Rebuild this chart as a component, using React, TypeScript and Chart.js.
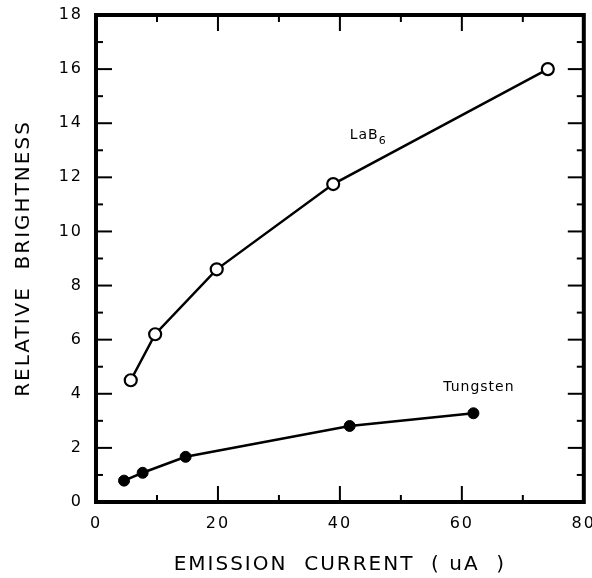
import React, { useEffect, useRef } from "react";
import { Chart, registerables } from "chart.js";

Chart.register(...registerables);

// ---- data ----
const lab6Current = [5.7, 9.7, 19.8, 38.9, 74.1];
const lab6Brightness = [4.5, 6.2, 8.6, 11.75, 16.0];
const tungstenCurrent = [4.6, 7.65, 14.7, 41.6, 61.9];
const tungstenBrightness = [0.79, 1.08, 1.67, 2.81, 3.28];
const xTickValues = [0, 20, 40, 60, 80];
const yTickValues = [0, 2, 4, 6, 8, 10, 12, 14, 16, 18];
const xTitle = "EMISSION  CURRENT  ( uA  )";
const yTitle = "RELATIVE  BRIGHTNESS";

const FONT = "'DejaVu Sans', sans-serif";

const toPoints = (xs: number[], ys: number[]) => xs.map((x, i) => ({ x, y: ys[i] }));

const framePlugin = {
  id: "frameAndLabels",
  beforeDraw(chart: any) {
    chart.ctx.letterSpacing = "2px";
  },
  afterDatasetsDraw(chart: any) {
    const { ctx, chartArea, scales } = chart;
    const { left, right, top, bottom } = chartArea;
    const x = scales.x;
    const y = scales.y;
    ctx.save();
    ctx.strokeStyle = "#000";
    ctx.lineWidth = 2;
    const seg = (x1: number, y1: number, x2: number, y2: number) => {
      ctx.beginPath();
      ctx.moveTo(x1, y1);
      ctx.lineTo(x2, y2);
      ctx.stroke();
    };
    for (let v = 10; v < 80; v += 10) {
      const px = x.getPixelForValue(v);
      const len = v % 20 === 0 ? 16 : 7;
      seg(px, bottom, px, bottom - len);
      seg(px, top, px, top + len);
    }
    for (let v = 1; v < 18; v += 1) {
      const py = y.getPixelForValue(v);
      const len = v % 2 === 0 ? 16 : 7;
      seg(left, py, left + len, py);
      seg(right, py, right - len, py);
    }
    ctx.lineWidth = 4;
    ctx.strokeRect(left, top, right - left, bottom - top);

    // series labels
    ctx.fillStyle = "#000";
    ctx.letterSpacing = "1px";
    ctx.textBaseline = "alphabetic";
    ctx.textAlign = "left";
    ctx.font = `14px ${FONT}`;
    const lx = x.getPixelForValue(41.6);
    const ly = y.getPixelForValue(13.4);
    ctx.fillText("LaB", lx, ly);
    const w = ctx.measureText("LaB").width;
    ctx.font = `11px ${FONT}`;
    ctx.fillText("6", lx + w, ly + 5);

    ctx.font = `14px ${FONT}`;
    ctx.textAlign = "center";
    ctx.textBaseline = "middle";
    ctx.fillText("Tungsten", x.getPixelForValue(62.8), y.getPixelForValue(4.25));
    ctx.restore();
  },
  afterDraw(chart: any) {
    chart.ctx.letterSpacing = "0px";
  },
};

export default function App() {
  const ref = useRef<HTMLCanvasElement | null>(null);
  useEffect(() => {
    if (!ref.current) return;
    const chart = new Chart(ref.current, {
      type: "line",
      data: {
        datasets: [
          {
            label: "LaB6",
            data: toPoints(lab6Current, lab6Brightness),
            borderColor: "#000",
            borderWidth: 2.5,
            backgroundColor: "#fff",
            pointBackgroundColor: "#fff",
            pointBorderColor: "#000",
            pointBorderWidth: 2.2,
            pointRadius: 6,
            tension: 0,
          },
          {
            label: "Tungsten",
            data: toPoints(tungstenCurrent, tungstenBrightness),
            borderColor: "#000",
            borderWidth: 2.5,
            backgroundColor: "#000",
            pointBackgroundColor: "#000",
            pointBorderColor: "#000",
            pointBorderWidth: 1,
            pointRadius: 5.5,
            tension: 0,
          },
        ],
      },
      options: {
        responsive: false,
        devicePixelRatio: 1,
        animation: false,
        layout: { padding: { top: 15, right: 8, left: 0, bottom: 0 } },
        plugins: { legend: { display: false }, tooltip: { enabled: false } },
        scales: {
          x: {
            type: "linear",
            min: 0,
            max: 80,
            afterBuildTicks: (s: any) => {
              s.ticks = xTickValues.map((v) => ({ value: v }));
            },
            afterFit: (s: any) => {
              s.height = 76;
              s.paddingLeft = 0;
              s.paddingRight = 0;
            },
            grid: { display: false, drawTicks: false },
            border: { display: false },
            ticks: { color: "#000", font: { family: FONT, size: 16 }, padding: 12, maxRotation: 0 },
            title: {
              display: true,
              text: xTitle,
              color: "#000",
              font: { family: FONT, size: 20 },
              padding: { top: 0, bottom: 1 },
            },
          },
          y: {
            type: "linear",
            min: 0,
            max: 18,
            afterBuildTicks: (s: any) => {
              s.ticks = yTickValues.map((v) => ({ value: v }));
            },
            afterFit: (s: any) => {
              s.width = 96;
              s.paddingTop = 0;
              s.paddingBottom = 0;
            },
            grid: { display: false, drawTicks: false },
            border: { display: false },
            ticks: { color: "#000", font: { family: FONT, size: 16 }, padding: 13 },
            title: {
              display: true,
              text: yTitle,
              color: "#000",
              font: { family: FONT, size: 20 },
              padding: { top: 12, bottom: 0 },
            },
          },
        },
      },
      plugins: [framePlugin],
    });
    return () => chart.destroy();
  }, []);
  return (
    <canvas
      ref={ref}
      width={592}
      height={578}
      style={{ position: "fixed", left: 0, top: 0, width: 592, height: 578 }}
    />
  );
}
